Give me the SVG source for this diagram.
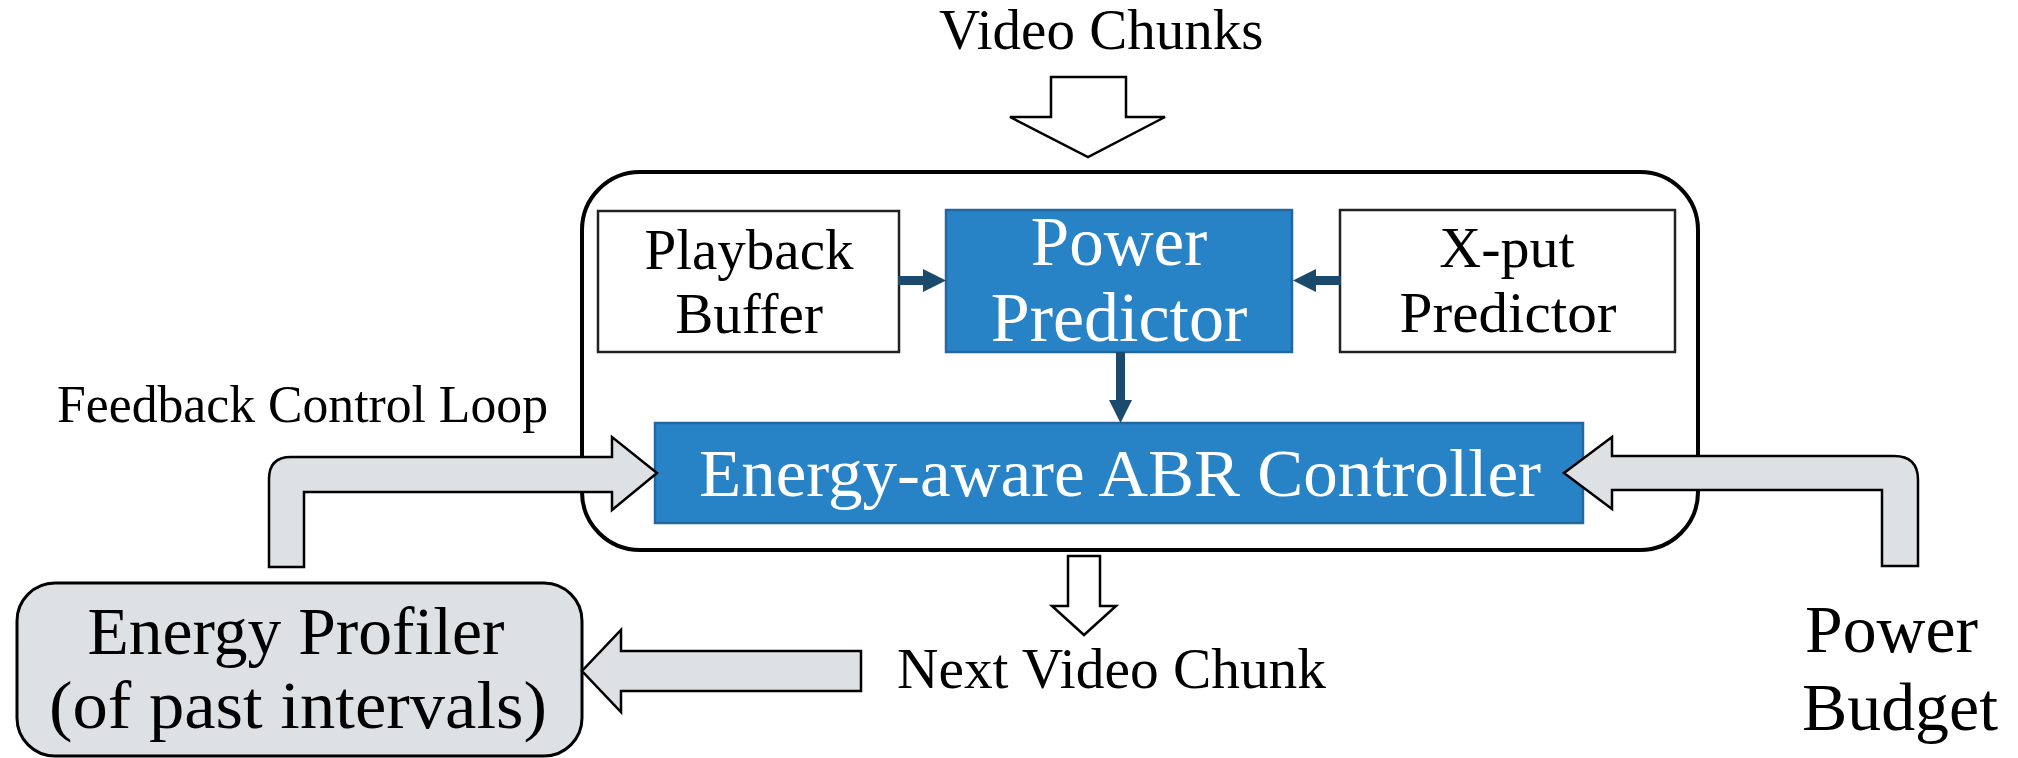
<svg xmlns="http://www.w3.org/2000/svg" width="2018" height="758" viewBox="0 0 2018 758">
<style>
  text { font-family: "Liberation Serif", "Times New Roman", serif; fill: #000; }
  .wt { fill: #fff; }
  .plain { fill: #fff; stroke: #222; stroke-width: 2.5; }
  .blue { fill: #2783C6; stroke: #2467A0; stroke-width: 2.5; }
  .container { fill: #fff; stroke: #000; stroke-width: 4; }
  .gray { fill: #DEE1E4; stroke: #000; stroke-width: 3; }
  .block { fill: #DEE1E4; stroke: #000; stroke-width: 2.5; stroke-linejoin: miter; }
  .blockw { fill: #fff; stroke: #000; stroke-width: 2.5; }
  .dark { fill: #1B4A6C; stroke: none; }
</style>
<rect width="2018" height="758" fill="#fff"/>

<g id="video-chunks-label">
  <text x="939" y="49" font-size="57">Video Chunks</text>
</g>

<g id="container">
  <rect class="container" x="582" y="172" width="1116" height="378" rx="58" ry="58"/>
</g>

<g id="playback-buffer">
  <rect class="plain" x="598" y="211" width="301" height="141"/>
  <text x="749" y="269" font-size="57" text-anchor="middle">Playback</text>
  <text x="749" y="333" font-size="57" text-anchor="middle">Buffer</text>
</g>

<g id="power-predictor">
  <rect class="blue" x="946" y="210" width="346" height="142"/>
  <text class="wt" x="1119" y="265" font-size="69" text-anchor="middle">Power</text>
  <text class="wt" x="1119" y="341" font-size="70" text-anchor="middle">Predictor</text>
</g>

<g id="xput-predictor">
  <rect class="plain" x="1340" y="210" width="335" height="142"/>
  <text x="1507" y="267" font-size="58" text-anchor="middle">X-put</text>
  <text x="1508" y="332" font-size="58" text-anchor="middle" textLength="217" lengthAdjust="spacingAndGlyphs">Predictor</text>
</g>

<g id="abr-controller">
  <rect class="blue" x="655" y="423" width="928" height="100"/>
  <text class="wt" x="1120" y="496" font-size="68" text-anchor="middle" textLength="842" lengthAdjust="spacingAndGlyphs">Energy-aware ABR Controller</text>
</g>

<g id="feedback-label">
  <text x="57" y="422" font-size="52" textLength="491" lengthAdjust="spacingAndGlyphs">Feedback Control Loop</text>
</g>

<g id="energy-profiler">
  <rect class="gray" x="17" y="583" width="565" height="173" rx="38" ry="38"/>
  <text x="296" y="654" font-size="67" text-anchor="middle" textLength="417" lengthAdjust="spacingAndGlyphs">Energy Profiler</text>
  <text x="298" y="728" font-size="67" text-anchor="middle" textLength="498" lengthAdjust="spacingAndGlyphs">(of past intervals)</text>
</g>

<g id="next-chunk-label">
  <text x="897" y="688" font-size="57" textLength="429" lengthAdjust="spacingAndGlyphs">Next Video Chunk</text>
</g>

<g id="power-budget">
  <text x="1805" y="652" font-size="67" textLength="173" lengthAdjust="spacingAndGlyphs">Power</text>
  <text x="1802" y="730" font-size="67" textLength="196" lengthAdjust="spacingAndGlyphs">Budget</text>
</g>

<g id="connectors">
  <!-- video chunks in -->
  <path class="blockw" d="M1051 77 L1126 77 L1126 117 L1165 117 L1088 157 L1010 117 L1051 117 Z"/>
  <!-- playback -> power -->
  <rect class="dark" x="898" y="276" width="27" height="9"/>
  <polygon class="dark" points="923,269 946,280.5 923,292"/>
  <!-- xput -> power -->
  <rect class="dark" x="1314" y="276" width="27" height="9"/>
  <polygon class="dark" points="1316,269 1293,280.5 1316,292"/>
  <!-- power -> abr -->
  <rect class="dark" x="1116" y="352" width="9" height="50"/>
  <polygon class="dark" points="1109,400 1132,400 1120.5,423"/>
  <!-- feedback loop arrow -->
  <path class="block" d="M269 567 L269 479 Q269 457 291 457 L612 457 L612 437 L657 473 L612 510 L612 492 L304 492 L304 567 Z"/>
  <!-- power budget arrow -->
  <path class="block" d="M1882 566 L1882 490 L1612 490 L1612 509 L1564 473 L1612 437 L1612 456 L1894 456 Q1918 456 1918 480 L1918 566 Z"/>
  <!-- next video chunk out -->
  <path class="blockw" d="M1068 556 L1100 556 L1100 606 L1116 606 L1084 635 L1052 606 L1068 606 Z"/>
  <!-- to energy profiler -->
  <path class="block" d="M861 651 L861 691 L621 691 L621 712 L582 671 L621 630 L621 651 Z"/>
</g>
</svg>
